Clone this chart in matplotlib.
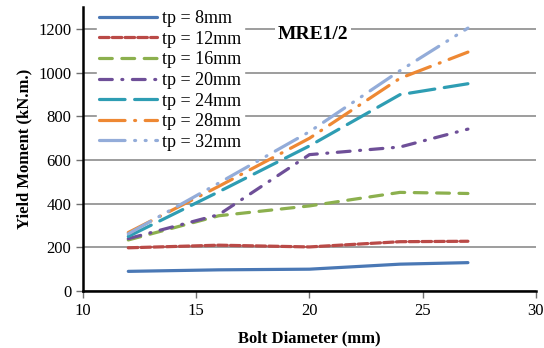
import matplotlib
matplotlib.use('Agg')
import matplotlib.pyplot as plt

# datos
bolt_diameter = [12, 16, 20, 24, 27]
tp_labels = ['tp = 8mm', 'tp = 12mm', 'tp = 16mm', 'tp = 20mm',
             'tp = 24mm', 'tp = 28mm', 'tp = 32mm']
tp8 = [90, 97, 100, 123, 130]
tp12 = [198, 210, 202, 226, 228]
tp16 = [234, 345, 390, 452, 447]
tp20 = [240, 350, 625, 660, 742]
tp24 = [250, 455, 665, 900, 950]
tp28 = [268, 480, 700, 975, 1095]
tp32 = [262, 495, 730, 1010, 1205]

series = [tp8, tp12, tp16, tp20, tp24, tp28, tp32]
colors = ['#4A78B5', '#BA4A47', '#8CB04E', '#6E4F98', '#2E9DB3', '#EE8833', '#93ACD9']
dashes = [None, (3, 1), (4, 3), (4, 3, 0.3, 3), (8, 3),
          (8, 3, 0.3, 3), (8, 3, 0.3, 3, 0.3, 3)]

plt.rcParams['font.family'] = ['Liberation Serif', 'DejaVu Serif']
fig = plt.figure(figsize=(5.44, 3.48), dpi=100)
ax = fig.add_axes([0.1526, 0.1638, 0.8324, 0.815])

for y, c, d, lab in zip(series, colors, dashes, tp_labels):
    line, = ax.plot(bolt_diameter, y, color=c, lw=2.3, label=lab,
                    solid_capstyle='round', dash_capstyle='round', zorder=3)
    if d is not None:
        line.set_dashes(d)

ax.set_xlim(10, 30)
ax.set_ylim(0, 1300)
ax.set_xticks([10, 15, 20, 25, 30])
ax.set_yticks(range(0, 1201, 200))
ax.grid(axis='y', color='#8C8C8C', lw=1.2, zorder=0)
ax.set_axisbelow(True)

for s in ['top', 'right']:
    ax.spines[s].set_visible(False)
ax.spines['left'].set_linewidth(1.8)
ax.spines['bottom'].set_linewidth(1.8)
ax.tick_params(labelsize=12, length=5, width=1, color='#707070', direction='out')

ax.set_xlabel('Bolt Diameter (mm)', fontsize=12, fontweight='bold', labelpad=8)
ax.set_ylabel('Yield Moment (kN.m.)', fontsize=12, fontweight='bold', labelpad=4)

leg = ax.legend(loc='upper left', bbox_to_anchor=(0.03, 1.0), frameon=True,
                fontsize=13, handlelength=3.2, handletextpad=0.25,
                labelspacing=0.2, borderpad=0.15, borderaxespad=0)
leg.get_frame().set_edgecolor('white')
leg.get_frame().set_facecolor('white')
leg.get_frame().set_alpha(1)

ax.text(0.43, 0.903, 'MRE1/2', transform=ax.transAxes, fontsize=14,
        fontweight='bold', ha='left', va='center', zorder=4,
        bbox=dict(facecolor='white', edgecolor='none', pad=2))

fig.savefig('out.png', dpi=100)
